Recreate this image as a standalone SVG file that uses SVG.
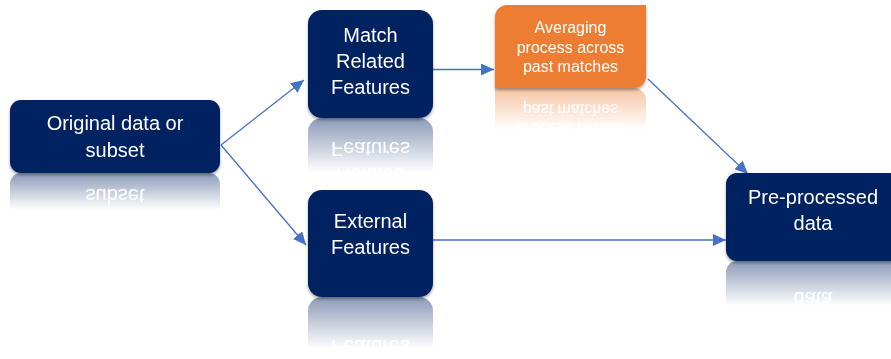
<svg xmlns="http://www.w3.org/2000/svg" xmlns:xlink="http://www.w3.org/1999/xlink" width="891" height="359" viewBox="0 0 891 359">
<style>
.box{fill:#002060}
.orange{fill:#ED7D31}
.t{font-family:"Liberation Sans",Arial,sans-serif;fill:#ffffff;text-anchor:middle}
.t20{font-size:20px}
.t16{font-size:16px}
.conn line{stroke:#4472C4;stroke-width:1.3;fill:none;marker-end:url(#arr)}
</style>
<defs>
<marker id="arr" markerUnits="userSpaceOnUse" markerWidth="13" markerHeight="12" refX="13" refY="6" orient="auto" viewBox="0 0 13 12">
<path d="M0,0 L13,6 L0,12 Z" fill="#4472C4"/>
</marker>
<filter id="sh" x="-10%" y="-10%" width="120%" height="130%">
<feDropShadow dx="0" dy="2" stdDeviation="1.8" flood-color="#000" flood-opacity="0.35"/>
</filter>
<linearGradient id="fade" x1="0" y1="0" x2="0" y2="1">
<stop offset="0" stop-color="#fff" stop-opacity="0.45"/>
<stop offset="1" stop-color="#fff" stop-opacity="0"/>
</linearGradient>
<mask id="refl" maskUnits="userSpaceOnUse" x="0" y="0" width="891" height="359">
<rect x="0" y="173" width="240" height="37" fill="url(#fade)"/>
<rect x="300" y="118" width="140" height="55" fill="url(#fade)"/>
<rect x="490" y="88" width="160" height="42" fill="url(#fade)"/>
<rect x="300" y="297" width="140" height="52" fill="url(#fade)"/>
<rect x="720" y="261" width="171" height="45" fill="url(#fade)"/>
</mask>
<g id="b1"><rect class="box" x="10" y="100" width="210" height="73" rx="11"/><text class="t t20" x="115" y="130">Original data or</text><text class="t t20" x="115" y="157">subset</text></g>
<g id="b2"><rect class="box" x="308" y="10" width="125" height="108" rx="14"/><text class="t t20" x="370.5" y="42">Match</text><text class="t t20" x="370.5" y="68">Related</text><text class="t t20" x="370.5" y="94">Features</text></g>
<g id="b3"><path class="orange" d="M507,5 H646 V76 A12,12 0 0 1 634,88 H495 V17 A12,12 0 0 1 507,5 Z"/><text class="t t16" x="570.5" y="33">Averaging</text><text class="t t16" x="570.5" y="53">process across</text><text class="t t16" x="570.5" y="72">past matches</text></g>
<g id="b4"><rect class="box" x="308" y="190" width="125" height="107" rx="14"/><text class="t t20" x="370.5" y="228">External</text><text class="t t20" x="370.5" y="254">Features</text></g>
<g id="b5"><rect class="box" x="726" y="173" width="175" height="88" rx="11"/><text class="t t20" x="813" y="204">Pre-processed</text><text class="t t20" x="813" y="230">data</text></g>
</defs>

<g id="reflections" mask="url(#refl)">
<use xlink:href="#b1" href="#b1" transform="translate(0,346) scale(1,-1)"/>
<use xlink:href="#b2" href="#b2" transform="translate(0,236) scale(1,-1)"/>
<use xlink:href="#b3" href="#b3" transform="translate(0,176) scale(1,-1)"/>
<use xlink:href="#b4" href="#b4" transform="translate(0,594) scale(1,-1)"/>
<use xlink:href="#b5" href="#b5" transform="translate(0,522) scale(1,-1)"/>
</g>

<g id="connectors" class="conn">
<line x1="221" y1="145" x2="304" y2="80"/>
<line x1="221" y1="145" x2="306" y2="245"/>
<line x1="433" y1="69.5" x2="494" y2="69.5"/>
<line x1="648" y1="79" x2="748" y2="174"/>
<line x1="433" y1="240" x2="726" y2="240"/>
</g>

<g id="node-original" filter="url(#sh)">
<rect class="box" x="10" y="100" width="210" height="73" rx="11"/>
<text class="t t20" x="115" y="130">Original data or</text>
<text class="t t20" x="115" y="157">subset</text>
</g>
<g id="node-match" filter="url(#sh)">
<rect class="box" x="308" y="10" width="125" height="108" rx="14"/>
<text class="t t20" x="370.5" y="42">Match</text>
<text class="t t20" x="370.5" y="68">Related</text>
<text class="t t20" x="370.5" y="94">Features</text>
</g>
<g id="node-averaging" filter="url(#sh)">
<path class="orange" d="M507,5 H646 V76 A12,12 0 0 1 634,88 H495 V17 A12,12 0 0 1 507,5 Z"/>
<text class="t t16" x="570.5" y="33">Averaging</text>
<text class="t t16" x="570.5" y="53">process across</text>
<text class="t t16" x="570.5" y="72">past matches</text>
</g>
<g id="node-external" filter="url(#sh)">
<rect class="box" x="308" y="190" width="125" height="107" rx="14"/>
<text class="t t20" x="370.5" y="228">External</text>
<text class="t t20" x="370.5" y="254">Features</text>
</g>
<g id="node-preprocessed" filter="url(#sh)">
<rect class="box" x="726" y="173" width="175" height="88" rx="11"/>
<text class="t t20" x="813" y="204">Pre-processed</text>
<text class="t t20" x="813" y="230">data</text>
</g>
</svg>
